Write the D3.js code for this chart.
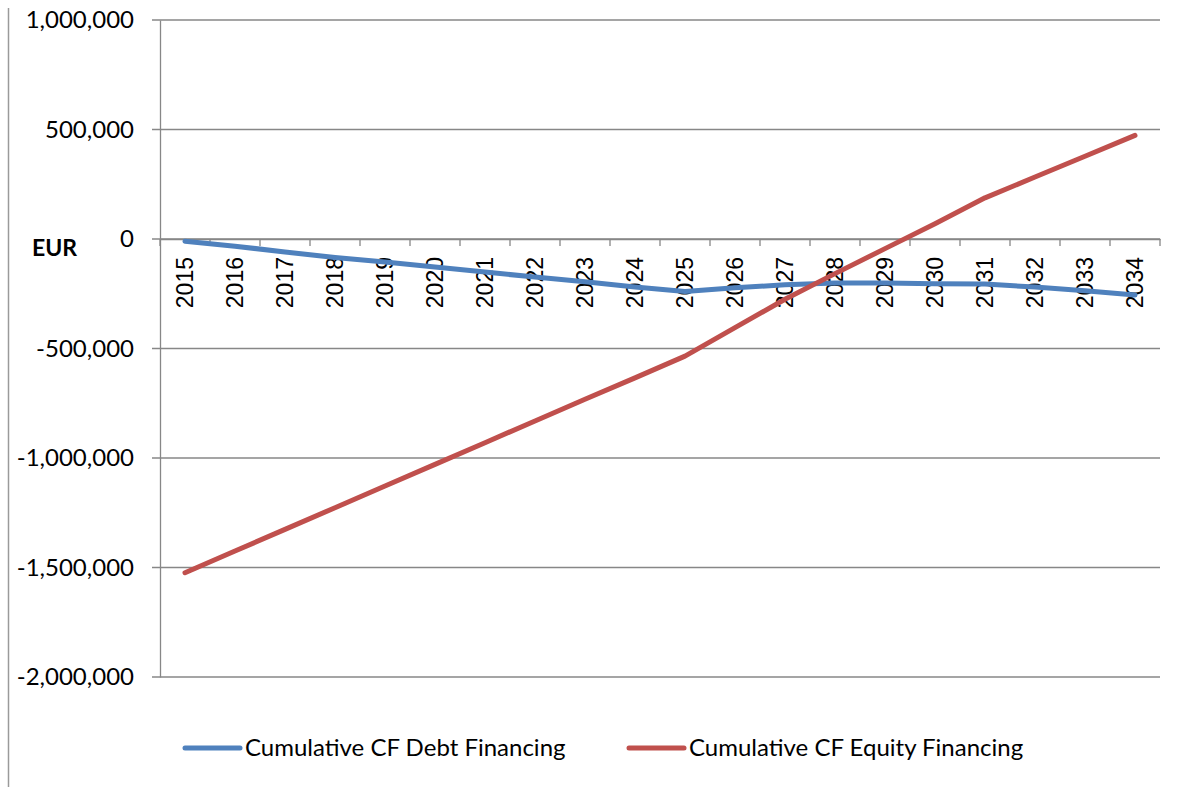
<!DOCTYPE html>
<html>
<head>
<meta charset="utf-8">
<script src="https://cdn.jsdelivr.net/npm/d3@7"></script>
<style>
  body { margin: 0; background: #fff; }
  svg { display: block; }
  .tick text { fill: #000; }
</style>
</head>
<body>
<div id="chart"></div>
<script>
var years = ['2015','2016','2017','2018','2019','2020','2021','2022','2023','2024',
             '2025','2026','2027','2028','2029','2030','2031','2032','2033','2034'];
var debt = [-10000,-33000,-59000,-84000,-105000,-128000,-151000,-174000,-195000,-219000,
            -240000,-223000,-209000,-201000,-201000,-204000,-206000,-219000,-236000,-256000];
var equity = [-1524000,-1425000,-1326000,-1227000,-1128000,-1029000,-930000,-831000,-732000,-634000,
              -535000,-405000,-275000,-158000,-44000,70000,188000,283000,378000,473000];
var yTicks = [-2000000,-1500000,-1000000,-500000,0,500000,1000000];
var seriesNames = ['Cumulative CF Debt Financing','Cumulative CF Equity Financing'];

var W = 1183, H = 787;
var margin = {top: 20, right: 23, bottom: 110, left: 160},
    width = W - margin.left - margin.right,
    height = 677 - margin.top;

var color = d3.scaleOrdinal().domain(seriesNames).range(['#4F81BD','#C0504D']);

var x = d3.scaleBand().domain(years).range([0, width]).padding(0);
var y = d3.scaleLinear().domain([-2000000, 1000000]).range([height, 0]);

var fmt = d3.format(',');

var svg = d3.select('#chart').append('svg')
    .attr('width', W)
    .attr('height', H);

// outer border piece on the left
svg.append('line')
    .attr('x1', 8.5).attr('x2', 8.5)
    .attr('y1', 8).attr('y2', H)
    .attr('stroke', '#9a9a9a').attr('stroke-width', 1.5);

var g = svg.append('g')
    .attr('transform', 'translate(' + margin.left + ',' + margin.top + ')');

// gridlines
g.append('g').selectAll('line')
    .data(yTicks)
    .enter().append('line')
    .attr('x1', -8).attr('x2', width)
    .attr('y1', function (d) { return y(d); })
    .attr('y2', function (d) { return y(d); })
    .attr('stroke', '#878787').attr('stroke-width', 1.3);

// y axis
var yAxis = g.append('g')
    .call(d3.axisLeft(y).tickValues(yTicks).tickSize(0).tickPadding(26)
        .tickFormat(function (d) { return fmt(d).replace('\u2212', '-'); }));
yAxis.select('.domain').attr('stroke', '#878787').attr('stroke-width', 1.3);
yAxis.selectAll('text')
    .style('font-family', 'Lato, sans-serif')
    .style('font-size', '24px');

// x axis at zero
var xAxis = g.append('g')
    .attr('transform', 'translate(0,' + y(0) + ')')
    .call(d3.axisBottom(x).tickSize(0).tickFormat(''));
xAxis.select('.domain').attr('stroke', '#878787').attr('stroke-width', 1.3);

// tick marks at category boundaries
g.append('g').selectAll('line')
    .data(d3.range(years.length + 1))
    .enter().append('line')
    .attr('x1', function (i) { return i * x.bandwidth(); })
    .attr('x2', function (i) { return i * x.bandwidth(); })
    .attr('y1', y(0)).attr('y2', y(0) + 7)
    .attr('stroke', '#878787').attr('stroke-width', 1.3);

// year labels, rotated
g.append('g').selectAll('text')
    .data(years)
    .enter().append('text')
    .attr('transform', function (d) {
        return 'translate(' + (x(d) + x.bandwidth() / 2) + ',' + (y(0) + 18) + ') rotate(-90)';
    })
    .attr('dy', '0.35em')
    .attr('text-anchor', 'end')
    .style('font-family', 'Liberation Sans, Arial, sans-serif')
    .style('font-size', '23px')
    .text(function (d) { return d; });

// axis title
svg.append('text')
    .attr('x', 32).attr('y', 256)
    .style('font-family', 'Lato, sans-serif')
    .style('font-size', '23px')
    .style('font-weight', 'bold')
    .text('EUR');

// lines
var line = d3.line()
    .x(function (d, i) { return x(years[i]) + x.bandwidth() / 2; })
    .y(function (d) { return y(d); });

[debt, equity].forEach(function (vals, k) {
    g.append('path')
        .datum(vals)
        .attr('fill', 'none')
        .attr('stroke', color(seriesNames[k]))
        .attr('stroke-width', 5)
        .attr('stroke-linecap', 'round')
        .attr('stroke-linejoin', 'round')
        .attr('d', line);
});

// legend
var legendX = [185, 629];
var legend = svg.selectAll('.legend')
    .data(seriesNames)
    .enter().append('g')
    .attr('class', 'legend')
    .attr('transform', function (d, i) { return 'translate(' + legendX[i] + ',748)'; });
legend.append('line')
    .attr('x1', 0).attr('x2', 55)
    .attr('stroke', function (d) { return color(d); })
    .attr('stroke-width', 5)
    .attr('stroke-linecap', 'round');
legend.append('text')
    .attr('x', 60).attr('dy', '0.35em')
    .style('font-family', 'Lato, sans-serif')
    .style('font-size', '24px')
    .text(function (d) { return d; });
</script>
</body>
</html>
